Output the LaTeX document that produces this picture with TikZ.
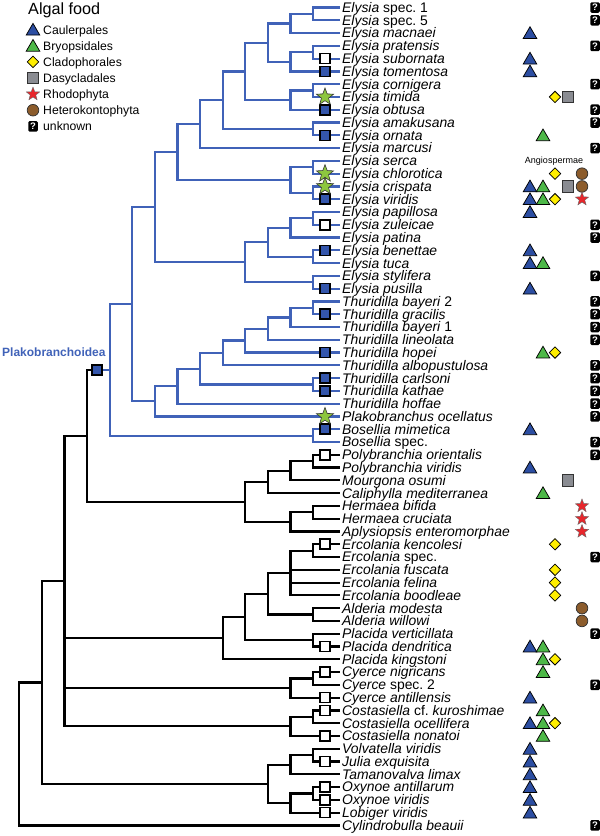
\documentclass[tikz,border=0pt]{standalone}
\usepackage{fontspec}
\setmainfont{Liberation Sans}
\usetikzlibrary{shapes.geometric}
\definecolor{linblue}{RGB}{64,98,184}
\definecolor{caul}{RGB}{44,78,162}
\definecolor{bryo}{RGB}{77,184,72}
\definecolor{clad}{RGB}{255,238,0}
\definecolor{dasy}{RGB}{138,140,146}
\definecolor{rhodo}{RGB}{232,38,43}
\definecolor{hetero}{RGB}{140,92,44}
\definecolor{stargreen}{RGB}{141,198,63}
\definecolor{sqblue}{RGB}{52,86,172}
\newcommand\RY[1]{7.5+12.78*(#1)}
\tikzset{
  bline/.style={draw=linblue, line width=2.2pt},
  kline/.style={draw=black, line width=2.2pt},
  taxon/.style={anchor=base west, inner sep=0pt, font=\fontsize{13.9}{15}\selectfont},
  legtext/.style={anchor=base west, inner sep=0pt, font=\fontsize{12.2}{14}\selectfont},
  opensq/.style={rectangle, draw=black, fill=white, line width=1.6pt, minimum size=10pt, inner sep=0pt},
  bluesq/.style={rectangle, draw=black, fill=sqblue, line width=1.6pt, minimum size=10pt, inner sep=0pt},
  gstar/.style={star, star points=5, star point ratio=2.4, minimum size=18pt, inner sep=0pt, fill=stargreen, draw=black!80, line width=0.6pt},
  pics/tri/.style={code={\draw[fill=#1, draw=black, line width=0.75pt] (-6.8,5.4) -- (6.8,5.4) -- (0,-6.3) -- cycle;}},
  pics/dia/.style={code={\draw[fill=clad, draw=black, line width=0.75pt] (-5.7,0) -- (0,-5.7) -- (5.7,0) -- (0,5.7) -- cycle;}},
  pics/gsq/.style={code={\draw[fill=dasy, draw=black!80, line width=0.75pt] (-5.7,-5.7) rectangle (5.7,5.7);}},
  pics/circ/.style={code={\draw[fill=hetero, draw=black!80, line width=0.75pt] (0,0) circle (5.8);}},
  pics/rstar/.style={code={\node[star, star points=5, star point ratio=2.4, minimum size=14pt, inner sep=0pt, fill=rhodo, draw=black!60, line width=0.4pt] (-s) {};}},
  pics/unk/.style={code={\node[fill=black, rounded corners=1.3pt, minimum width=9.5pt, minimum height=10.5pt, inner sep=0pt, text=white, font=\bfseries\fontsize{9.5}{9.5}\selectfont] (-q) {?};}},
}
\begin{document}
\begin{tikzpicture}[x=1pt,y=-1pt, line join=miter]
\useasboundingbox (0,0) rectangle (600,836);

% ---------- legend ----------
\node[anchor=base west, inner sep=0pt, font=\fontsize{16.2}{18}\selectfont] (legtitle) at (28,14) {Algal food};
\pic at (33,29.7) {tri=caul};
\node[legtext] (l1) at (43,34) {Caulerpales};
\pic at (33,45.8) {tri=bryo};
\node[legtext] (l2) at (43,50.1) {Bryopsidales};
\pic at (33,61.9) {dia};
\node[legtext] (l3) at (43,66.2) {Cladophorales};
\pic at (33,78) {gsq};
\node[legtext] (l4) at (43,82.3) {Dasycladales};
\pic at (33,94.1) {rstar};
\node[legtext] (l5) at (43,98.4) {Rhodophyta};
\pic at (33,110.2) {circ};
\node[legtext] (l6) at (43,114.5) {Heterokontophyta};
\pic at (33,126.3) {unk};
\node[legtext] (l7) at (43,130.6) {unknown};

% ---------- taxa ----------
\foreach \i/\txt in {
0/{\textit{Elysia} spec.\ 1},
1/{\textit{Elysia} spec.\ 5},
2/{\textit{Elysia macnaei}},
3/{\textit{Elysia pratensis}},
4/{\textit{Elysia subornata}},
5/{\textit{Elysia tomentosa}},
6/{\textit{Elysia cornigera}},
7/{\textit{Elysia timida}},
8/{\textit{Elysia obtusa}},
9/{\textit{Elysia amakusana}},
10/{\textit{Elysia ornata}},
11/{\textit{Elysia marcusi}},
12/{\textit{Elysia serca}},
13/{\textit{Elysia chlorotica}},
14/{\textit{Elysia crispata}},
15/{\textit{Elysia viridis}},
16/{\textit{Elysia papillosa}},
17/{\textit{Elysia zuleicae}},
18/{\textit{Elysia patina}},
19/{\textit{Elysia benettae}},
20/{\textit{Elysia tuca}},
21/{\textit{Elysia stylifera}},
22/{\textit{Elysia pusilla}},
23/{\textit{Thuridilla bayeri} 2},
24/{\textit{Thuridilla gracilis}},
25/{\textit{Thuridilla bayeri} 1},
26/{\textit{Thuridilla lineolata}},
27/{\textit{Thuridilla hopei}},
28/{\textit{Thuridilla albopustulosa}},
29/{\textit{Thuridilla carlsoni}},
30/{\textit{Thuridilla kathae}},
31/{\textit{Thuridilla hoffae}},
32/{\textit{Plakobranchus ocellatus}},
33/{\textit{Bosellia mimetica}},
34/{\textit{Bosellia} spec.},
35/{\textit{Polybranchia orientalis}},
36/{\textit{Polybranchia viridis}},
37/{\textit{Mourgona osumi}},
38/{\textit{Caliphylla mediterranea}},
39/{\textit{Hermaea bifida}},
40/{\textit{Hermaea cruciata}},
41/{\textit{Aplysiopsis enteromorphae}},
42/{\textit{Ercolania kencolesi}},
43/{\textit{Ercolania} spec.},
44/{\textit{Ercolania fuscata}},
45/{\textit{Ercolania felina}},
46/{\textit{Ercolania boodleae}},
47/{\textit{Alderia modesta}},
48/{\textit{Alderia willowi}},
49/{\textit{Placida verticillata}},
50/{\textit{Placida dendritica}},
51/{\textit{Placida kingstoni}},
52/{\textit{Cyerce nigricans}},
53/{\textit{Cyerce} spec.\ 2},
54/{\textit{Cyerce antillensis}},
55/{\textit{Costasiella} cf.\ \textit{kuroshimae}},
56/{\textit{Costasiella ocellifera}},
57/{\textit{Costasiella nonatoi}},
58/{\textit{Volvatella viridis}},
59/{\textit{Julia exquisita}},
60/{\textit{Tamanovalva limax}},
61/{\textit{Oxynoe antillarum}},
62/{\textit{Oxynoe viridis}},
63/{\textit{Lobiger viridis}},
64/{\textit{Cylindrobulla beauii}}}
{
  \coordinate (p\i) at (340,{\RY{\i}});
  \node[taxon] (t\i) at (342,{\RY{\i}+4.9}) {\txt};
}

% ---------- internal nodes ----------
\foreach \n/\x/\r in {
nA/313/0.5, nB/290.4/1.25, nC/313/3.5, nD/290.4/4.25, nE/267.8/2.75,
nF/313/6.5, nG/290.4/7.25, nH/245.2/5.0, nI/313/9.5, nJ/222.6/7.25,
nK/200/9.125, nL/313/12.5, nM/313/14.5, nN/290.4/13.5, nO/177.4/11.3125,
nP/313/16.5, nQ/290.4/17.25, nR/313/19.5, nS/267.8/18.375, nT/313/21.5,
nU/245.2/19.9375, nV/154.8/15.625,
nW/313/23.5, nX/290.4/24.25, nY/267.8/25.125, nZ/245.2/26.0625,
mA/222.6/27.03125, mB/313/29.5, mC/200/28.2656, mD/177.4/29.6328,
mE/154.8/30.8164, mF/132.2/23.2207, mG/313/33.5, plako/109.6/28.3604,
plsq/97/28.3604,
mH/313/35.5, mI/290.4/36.25, mJ/267.8/37.125, mK/313/39.5, mL/290.4/40.25,
mM/245.2/38.6875, mN/87/33.5239,
mO/313/42.5, mP/290.4/44.25, mQ/313/47.5, mR/267.8/45.875, mS/313/49.5,
mT/245.2/47.6875, mU/222.6/49.3438, mV/313/52.5, mW/290.4/53.25,
mX/313/55.5, mY/290.4/56.25, mZ/64.4/44.8870,
kA/313/58.5, kB/290.4/59.25, kC/313/61.5, kD/290.4/62.25, kE/267.8/60.75,
kF/41.8/52.8185, kG/19.2/58.4093}
{ \coordinate (\n) at (\x,{\RY{\r}}); }

% ---------- blue edges ----------
\foreach \pa/\ch in {nA/p0, nA/p1, nB/nA, nB/p2, nC/p3, nC/p4, nD/nC, nD/p5,
 nE/nB, nE/nD, nF/p6, nF/p7, nG/nF, nG/p8, nH/nE, nH/nG, nI/p9, nI/p10,
 nJ/nH, nJ/nI, nK/nJ, nK/p11, nL/p12, nL/p13, nM/p14, nM/p15, nN/nL, nN/nM,
 nO/nK, nO/nN, nP/p16, nP/p17, nQ/nP, nQ/p18, nR/p19, nR/p20, nS/nQ, nS/nR,
 nT/p21, nT/p22, nU/nS, nU/nT, nV/nO, nV/nU, nW/p23, nW/p24, nX/nW, nX/p25,
 nY/nX, nY/p26, nZ/nY, nZ/p27, mA/nZ, mA/p28, mB/p29, mB/p30, mC/mA, mC/mB,
 mD/mC, mD/p31, mE/mD, mE/p32, mF/nV, mF/mE, mG/p33, mG/p34, plako/mF, plako/mG}
{ \draw[bline] (\pa) |- (\ch); }
\draw[bline] (plsq) -- (plako);

% ---------- black edges ----------
\foreach \pa/\ch in {mN/plsq, mH/p35, mH/p36, mI/mH, mI/p37, mJ/mI, mJ/p38,
 mK/p39, mK/p40, mL/mK, mL/p41, mM/mJ, mM/mL, mN/mM, mO/p42, mO/p43, mP/mO,
 mP/p44, mP/p45, mP/p46, mQ/p47, mQ/p48, mR/mP, mR/mQ, mS/p49, mS/p50,
 mT/mR, mT/mS, mU/mT, mU/p51, mV/p52, mV/p53, mW/mV, mW/p54, mX/p55, mX/p56,
 mY/mX, mY/p57, mZ/mN, mZ/mU, mZ/mW, mZ/mY, kA/p58, kA/p59, kB/kA, kB/p60,
 kC/p61, kC/p62, kD/kC, kD/p63, kE/kB, kE/kD, kF/mZ, kF/kE, kG/kF, kG/p64}
{ \draw[kline] (\pa) |- (\ch); }

% ---------- character states on branches ----------
\foreach \i in {4,17,35,42,50,52,54,55,57,59,61,62,63}
 { \node[opensq] (os\i) at (325,{\RY{\i}}) {}; }
\foreach \i in {5,8,10,15,19,22,24,27,29,30,33}
 { \node[bluesq] (bs\i) at (325,{\RY{\i}}) {}; }
\node[bluesq] (plakosq) at (plsq) {};
\foreach \i in {7,13,14,32}
 { \node[gstar] (gs\i) at (325,{\RY{\i}}) {}; }

\node[anchor=base west, inner sep=0pt, text=linblue, font=\bfseries\fontsize{12}{14}\selectfont] (plakolabel) at (2,356.3) {Plakobranchoidea};

% ---------- algal food column ----------
\foreach \i in {2,4,5,14,15,16,19,20,22,33,36,50,54,56,58,59,60,61,62,63}
 { \pic at (530,{\RY{\i}}) {tri=caul}; }
\foreach \i in {10,14,15,20,27,38,50,51,52,55,56,57}
 { \pic at (543,{\RY{\i}}) {tri=bryo}; }
\foreach \i in {7,13,15,27,42,44,45,46,51,56}
 { \pic at (555,{\RY{\i}}) {dia}; }
\foreach \i in {7,14,37}
 { \pic at (568,{\RY{\i}}) {gsq}; }
\foreach \i in {13,14,47,48}
 { \pic at (582,{\RY{\i}}) {circ}; }
\foreach \i in {15,39,40,41}
 { \pic at (582,{\RY{\i}}) {rstar}; }
\foreach \i in {0,1,3,6,8,9,11,17,18,21,23,24,25,26,28,29,30,31,32,34,35,43,49,53,64}
 { \pic at (595,{\RY{\i}}) {unk}; }
\node[font=\fontsize{9}{10}\selectfont, inner sep=0pt] (angio) at (554,{\RY{12}}) {Angiospermae};
\end{tikzpicture}
\end{document}
